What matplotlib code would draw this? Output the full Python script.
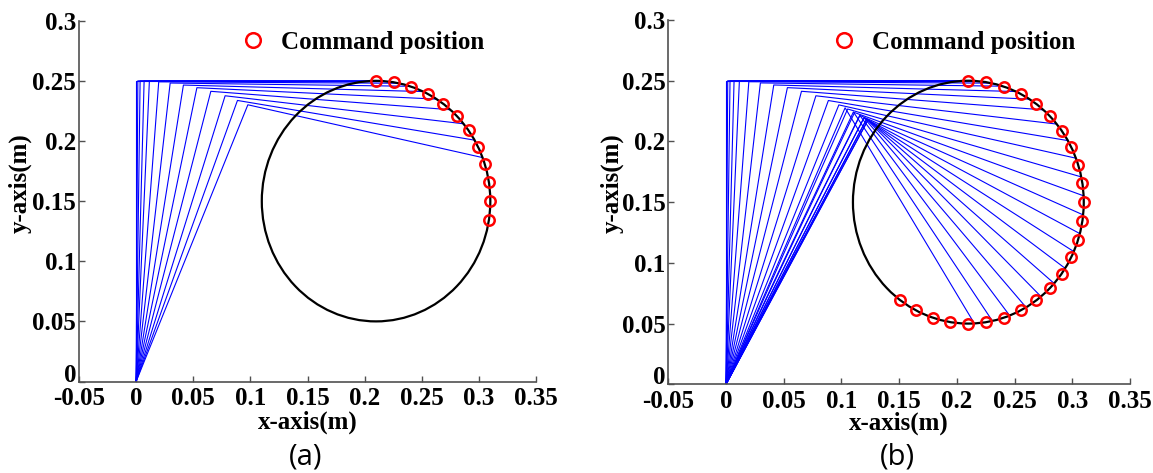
import matplotlib
matplotlib.use("Agg")
import matplotlib.pyplot as plt
from matplotlib.patches import Circle

# ===================== data =====================
# two-link arm: base (0,0) -> elbow -> tip, one row per sampled configuration
elbow_x = [0.0, 0.0015, 0.0035, 0.0070, 0.0116, 0.0198, 0.0298, 0.0414, 0.0532, 0.0654,
           0.0779, 0.0887, 0.0978, 0.1054, 0.1114, 0.1161, 0.1196, 0.1218, 0.1230, 0.1230,
           0.1219, 0.1196, 0.1159, 0.1104, 0.1032]
elbow_y = [0.2500, 0.2500, 0.2500, 0.2499, 0.2497, 0.2492, 0.2482, 0.2465, 0.2443, 0.2413,
           0.2376, 0.2337, 0.2301, 0.2267, 0.2238, 0.2214, 0.2195, 0.2183, 0.2176, 0.2176,
           0.2183, 0.2195, 0.2215, 0.2243, 0.2277]
tip_x = [0.2100, 0.2116, 0.2135, 0.2170, 0.2222, 0.2298, 0.2397, 0.2513, 0.2630, 0.2749,
         0.2866, 0.2962, 0.3032, 0.3078, 0.3099, 0.3095, 0.3066, 0.3014, 0.2939, 0.2843,
         0.2729, 0.2600, 0.2458, 0.2308, 0.2152]
tip_y = [0.2500, 0.2500, 0.2499, 0.2498, 0.2493, 0.2480, 0.2455, 0.2411, 0.2348, 0.2260,
         0.2143, 0.2007, 0.1862, 0.1708, 0.1552, 0.1395, 0.1241, 0.1093, 0.0955, 0.0831,
         0.0723, 0.0634, 0.0566, 0.0522, 0.0501]

# command positions (red circles)
cmd_x = [0.2100, 0.2256, 0.2409, 0.2554, 0.2688, 0.2807, 0.2909, 0.2991, 0.3051, 0.3088,
         0.3100, 0.3088, 0.3051, 0.2991, 0.2909, 0.2807, 0.2688, 0.2554, 0.2409, 0.2256,
         0.2100, 0.1944, 0.1791, 0.1646, 0.1512]
cmd_y = [0.2500, 0.2488, 0.2451, 0.2391, 0.2309, 0.2207, 0.2088, 0.1954, 0.1809, 0.1656,
         0.1500, 0.1344, 0.1191, 0.1046, 0.0912, 0.0793, 0.0691, 0.0609, 0.0549, 0.0512,
         0.0500, 0.0512, 0.0549, 0.0609, 0.0691]

# reference circle
circle_center = (0.21, 0.15)
circle_radius = 0.1

# how many arm poses / command points each panel shows
n_arm = {"a": 13, "b": 25}
n_cmd = {"a": 12, "b": 25}

x_ticks = [-0.05, 0, 0.05, 0.1, 0.15, 0.2, 0.25, 0.3, 0.35]
x_tick_labels = ["-0.05", "0", "0.05", "0.1", "0.15", "0.2", "0.25", "0.3", "0.35"]
y_ticks = [0, 0.05, 0.1, 0.15, 0.2, 0.25, 0.3]
y_tick_labels = ["0", "0.05", "0.1", "0.15", "0.2", "0.25", "0.3"]

# ===================== figure =====================
plt.rcParams["font.family"] = ["Liberation Serif", "DejaVu Serif"]
plt.rcParams["font.weight"] = "bold"
plt.rcParams["axes.unicode_minus"] = False

fig = plt.figure(figsize=(11.53, 4.73), dpi=100)

panels = {
    "a": dict(rect=[0.0685, 0.1934, 0.3964, 0.7628], leg=(0.353, 0.939),
              ylab=(-0.103, 0.55), xlab=(0.5, -0.08), cap=(306, 457)),
    "b": dict(rect=[0.5796, 0.1875, 0.4004, 0.7702], leg=(0.3533, 0.9377),
              ylab=(-0.096, 0.5526), xlab=(0.5, -0.074), cap=(897, 457)),
}

axis_color = "#505050"

for key, p in panels.items():
    ax = fig.add_axes(p["rect"])

    # arm poses
    for i in range(n_arm[key]):
        ax.plot([0, elbow_x[i], tip_x[i]], [0, elbow_y[i], tip_y[i]],
                color="blue", linewidth=0.8, zorder=2)

    # desired path
    ax.add_patch(Circle(circle_center, circle_radius, fill=False,
                        edgecolor="black", linewidth=1.6, zorder=3))

    # command positions
    ax.plot(cmd_x[:n_cmd[key]], cmd_y[:n_cmd[key]], linestyle="none", marker="o",
            markersize=7.5, markerfacecolor="none", markeredgecolor="red",
            markeredgewidth=1.8, label="Command position", zorder=4)

    ax.set_xlim(-0.05, 0.35)
    ax.set_ylim(0, 0.3)
    ax.set_xticks(x_ticks)
    ax.set_xticklabels(x_tick_labels)
    ax.set_yticks(y_ticks)
    ax.set_yticklabels(y_tick_labels)
    ax.tick_params(direction="in", length=4, width=1, colors=axis_color,
                   labelcolor="black", labelsize=18)
    ax.tick_params(axis="x", pad=4)
    ax.tick_params(axis="y", pad=2)
    # the "0" on the y axis sits just above the x axis, as in the original
    ax.get_yticklabels()[0].set_verticalalignment("baseline")

    for s in ["top", "right"]:
        ax.spines[s].set_visible(False)
    for s in ["left", "bottom"]:
        ax.spines[s].set_color(axis_color)
        ax.spines[s].set_linewidth(1.2)

    ax.set_xlabel("x-axis(m)", fontsize=18, fontweight="bold")
    ax.set_ylabel("y-axis(m)", fontsize=18, fontweight="bold")
    ax.xaxis.set_label_coords(*p["xlab"])
    ax.yaxis.set_label_coords(*p["ylab"])

    ax.legend(loc="center left", bbox_to_anchor=p["leg"], frameon=False,
              borderpad=0, borderaxespad=0, handlelength=1.0, handletextpad=0.62,
              markerscale=1.4, prop={"size": 18, "weight": "bold"})

    # panel caption
    fig.text(p["cap"][0] / 1153, 1 - p["cap"][1] / 473, "(" + key + ")",
             ha="center", va="center", fontsize=21, fontweight="normal",
             family=["Open Sans", "DejaVu Sans"])

fig.savefig("out.png", dpi=100)
plt.close(fig)
